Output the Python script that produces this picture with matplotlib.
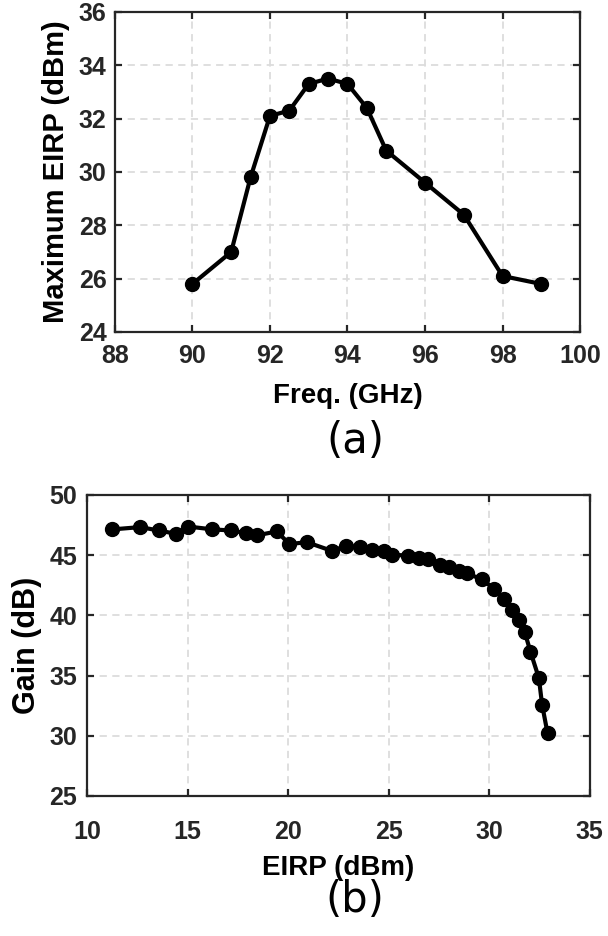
import matplotlib
matplotlib.use("Agg")
import matplotlib.pyplot as plt

# Data (a)
freq = [90, 91, 91.5, 92, 92.5, 93, 93.5, 94, 94.5, 95, 96, 97, 98, 99]
max_eirp = [25.8, 27.0, 29.8, 32.1, 32.3, 33.3, 33.5, 33.3, 32.4, 30.8, 29.6, 28.4, 26.1, 25.8]

# Data (b)
eirp = [11.27, 12.65, 13.56, 14.44, 15.02, 16.24, 17.17, 17.90, 18.44, 19.44,
        20.07, 20.93, 22.17, 22.87, 23.58, 24.16, 24.77, 25.18, 25.94, 26.51,
        26.97, 27.55, 28.00, 28.50, 28.88, 29.65, 30.25, 30.75, 31.14, 31.49,
        31.77, 32.05, 32.47, 32.63, 32.90]
gain = [47.14, 47.33, 47.05, 46.77, 47.38, 47.14, 47.05, 46.83, 46.64, 46.97,
        45.92, 46.08, 45.36, 45.75, 45.67, 45.47, 45.31, 45.03, 44.97, 44.78,
        44.64, 44.20, 44.00, 43.72, 43.50, 42.98, 42.20, 41.37, 40.48, 39.65,
        38.59, 36.99, 34.79, 32.58, 30.22]

a_xticks = [88, 90, 92, 94, 96, 98, 100]
a_yticks = [24, 26, 28, 30, 32, 34, 36]
b_xticks = [10, 15, 20, 25, 30, 35]
b_yticks = [25, 30, 35, 40, 45, 50]

plt.rcParams['font.family'] = ['Liberation Sans', 'DejaVu Sans']
fig = plt.figure(figsize=(6.08, 9.36), dpi=100)

dark = '#262626'

def style(ax, xt, yt, xl, yl, xlsize, ylsize, xpad, ypad, xlc, ylc):
    ax.set_xticks(xt)
    ax.set_yticks(yt)
    ax.set_xlim(xt[0], xt[-1])
    ax.set_ylim(yt[0], yt[-1])
    ax.grid(True, linestyle=(0, (4, 3)), color='#dcdcdc', linewidth=1.3)
    ax.set_axisbelow(True)
    for s in ax.spines.values():
        s.set_linewidth(1.6)
        s.set_color(dark)
    ax.tick_params(direction='in', length=5, width=1.6, colors=dark,
                   top=True, right=True, labelsize=18)
    ax.tick_params(axis='x', pad=xpad)
    ax.tick_params(axis='y', pad=ypad)
    for lab in ax.get_xticklabels() + ax.get_yticklabels():
        lab.set_fontweight('bold')
        lab.set_color(dark)
    ax.set_xlabel(xl, fontsize=xlsize, fontweight='bold', color='black')
    ax.set_ylabel(yl, fontsize=ylsize, fontweight='bold', color='black')
    ax.xaxis.set_label_coords(0.5, xlc)
    ax.yaxis.set_label_coords(ylc, 0.5)

ax1 = fig.add_axes([0.189, 0.6453, 0.765, 0.342])
ax1.plot(freq, max_eirp, '-o', color='black', linewidth=3, markersize=10)
style(ax1, a_xticks, a_yticks, 'Freq. (GHz)', 'Maximum EIRP (dBm)',
      20, 21, 9, 6, -0.159, -0.097)

ax2 = fig.add_axes([0.143, 0.1496, 0.827, 0.3216])
ax2.plot(eirp, gain, '-o', color='black', linewidth=3, markersize=10)
style(ax2, b_xticks, b_yticks, 'EIRP (dBm)', 'Gain (dB)',
      20, 22, 17, 7, -0.196, -0.089)

fig.text(355/608, 1 - 441/936, '(a)', fontsize=30, family='DejaVu Sans',
         ha='center', va='center')
fig.text(355/608, 1 - 900/936, '(b)', fontsize=30, family='DejaVu Sans',
         ha='center', va='center')

fig.savefig('out.png', dpi=100)
